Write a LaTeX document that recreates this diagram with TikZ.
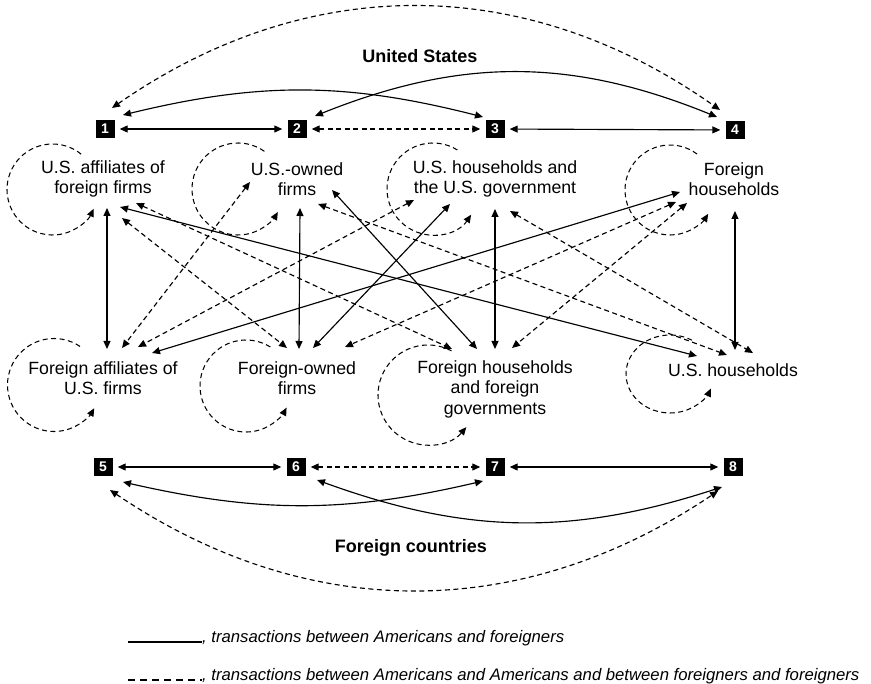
\documentclass[tikz,border=0pt]{standalone}
\usepackage{fontspec}
\setmainfont{Liberation Sans}
\usetikzlibrary{arrows.meta}
\begin{document}
\begin{tikzpicture}[x=1pt,y=1pt,
  >={Triangle[length=8pt,width=7pt]},
  conn/.style={line width=1.15pt,<->},
  dconn/.style={conn,dash pattern=on 5pt off 3.5pt},
  straight/.style={shorten >=5pt,shorten <=5pt},
  selfloop/.style={line width=1.05pt,dash pattern=on 5pt off 3.5pt,->},
  numbox/.style={fill=black,text=white,font=\bfseries\fontsize{14}{14}\selectfont,minimum width=19pt,minimum height=18pt,inner sep=0pt},
  lab/.style={align=center,font=\fontsize{17.7}{20.5}\selectfont,inner sep=0pt},
  region/.style={font=\bfseries\fontsize{18}{20}\selectfont,inner sep=0pt},
  legendtext/.style={font=\itshape\fontsize{16.7}{20}\selectfont,anchor=base west,inner sep=0pt}
]
\useasboundingbox (0,0) rectangle (871,-684);

% ---------- numbered boxes ----------
\node[numbox] (n1) at (105,-129) {1};
\node[numbox] (n2) at (297,-129) {2};
\node[numbox] (n3) at (495,-129) {3};
\node[numbox] (n4) at (735,-130) {4};
\node[numbox] (n5) at (103,-467) {5};
\node[numbox] (n6) at (296,-467) {6};
\node[numbox] (n7) at (495,-467) {7};
\node[numbox] (n8) at (733,-467) {8};

% ---------- titles ----------
\node[region] (us) at (420,-56) {United States};
\node[region] (fc) at (411,-548) {Foreign countries};

% ---------- sector labels ----------
\node[lab] (lA1) at (103,-179) {U.S. affiliates of\\foreign firms};
\node[lab] (lA2) at (297,-179) {U.S.-owned\\firms};
\node[lab] (lA3) at (495,-179) {U.S. households and\\the U.S. government};
\node[lab] (lA4) at (734,-179) {Foreign\\households};
\node[lab] (lB1) at (103,-378) {Foreign affiliates of\\U.S. firms};
\node[lab] (lB2) at (297,-378) {Foreign-owned\\firms};
\node[lab] (lB3) at (495,-389) {Foreign households\\and foreign\\governments};
\node[lab] (lB4) at (733,-370) {U.S. households};

% ---------- top row connections ----------
\draw[conn,straight] (n1) -- (n2);
\draw[dconn,straight] (n2) -- (n3);
\draw[conn,straight] (n3) -- (n4);
\coordinate (t14a) at (112,-108); \coordinate (t14b) at (720,-110);
\coordinate (t13a) at (123,-115); \coordinate (t13b) at (483,-117);
\coordinate (t24a) at (315,-116); \coordinate (t24b) at (717,-117);
\draw[dconn] (t14a) to[bend left=35] (t14b);
\draw[conn] (t13a) to[bend left=14] (t13b);
\draw[conn] (t24a) to[bend left=22] (t24b);

% ---------- bottom row connections ----------
\draw[conn,straight] (n5) -- (n6);
\draw[dconn,straight] (n6) -- (n7);
\draw[conn,straight] (n7) -- (n8);
\coordinate (b57a) at (123,-482); \coordinate (b57b) at (483,-481);
\coordinate (b68a) at (317,-480); \coordinate (b68b) at (722,-487);
\coordinate (b58a) at (110,-490); \coordinate (b58b) at (718,-491);
\draw[conn] (b57a) to[bend right=13] (b57b);
\draw[conn] (b68a) to[bend right=19] (b68b);
\draw[dconn] (b58a) to[bend right=34] (b58b);

% ---------- end points of the cross connections ----------
\coordinate (pA1B1) at (107,-208); \coordinate (pA1B2) at (122,-218);
\coordinate (pA1B3) at (136,-203); \coordinate (pA1B4) at (120,-207);
\coordinate (pA2B1) at (250,-182); \coordinate (pA2B2) at (300,-208);
\coordinate (pA2B3) at (332,-190); \coordinate (pA2B4) at (318,-204);
\coordinate (pA3B1) at (414,-200); \coordinate (pA3B2) at (450,-204);
\coordinate (pA3B3) at (495,-209); \coordinate (pA3B4) at (510,-211);
\coordinate (pA4B1) at (680,-192); \coordinate (pA4B2) at (676,-202);
\coordinate (pA4B3) at (687,-203); \coordinate (pA4B4) at (735,-211);

\coordinate (qB1A1) at (107,-349); \coordinate (qB1A2) at (122,-348);
\coordinate (qB1A3) at (138,-347); \coordinate (qB1A4) at (152,-353);
\coordinate (qB2A1) at (287,-348); \coordinate (qB2A2) at (299,-349);
\coordinate (qB2A3) at (313,-348); \coordinate (qB2A4) at (345,-347);
\coordinate (qB3A1) at (452,-349); \coordinate (qB3A2) at (477,-349);
\coordinate (qB3A3) at (495,-349); \coordinate (qB3A4) at (512,-348);
\coordinate (qB4A1) at (697,-356); \coordinate (qB4A2) at (727,-355);
\coordinate (qB4A3) at (753,-353); \coordinate (qB4A4) at (735,-350);

% vertical (solid)
\draw[conn] (pA1B1) -- (qB1A1);
\draw[conn] (pA2B2) -- (qB2A2);
\draw[conn] (pA3B3) -- (qB3A3);
\draw[conn] (pA4B4) -- (qB4A4);
% diagonals, Americans <-> foreigners (solid)
\draw[conn] (pA1B4) -- (qB4A1);
\draw[conn] (pA2B3) -- (qB3A2);
\draw[conn] (pA3B2) -- (qB2A3);
\draw[conn] (pA4B1) -- (qB1A4);
% diagonals, same side (dashed)
\draw[dconn] (pA1B2) -- (qB2A1);
\draw[dconn] (pA1B3) -- (qB3A1);
\draw[dconn] (pA2B1) -- (qB1A2);
\draw[dconn] (pA2B4) -- (qB4A2);
\draw[dconn] (pA3B1) -- (qB1A3);
\draw[dconn] (pA3B4) -- (qB4A3);
\draw[dconn] (pA4B2) -- (qB2A4);
\draw[dconn] (pA4B3) -- (qB3A4);

% ---------- self loops ----------
\coordinate (cA1) at (52.5,-189.5);
\coordinate (cA2) at (238,-189);
\coordinate (cA3) at (433,-189);
\coordinate (cA4) at (670,-190);
\coordinate (cB1) at (54,-385);
\coordinate (cB2) at (246,-386);
\coordinate (cB3) at (428,-395);
\coordinate (cB4) at (670,-374);
\draw[selfloop] (cA1) ++(51:45.5) arc[start angle=51,end angle=335,radius=45.5];
\draw[selfloop] (cA2) ++(55:46) arc[start angle=55,end angle=330,radius=46];
\draw[selfloop] (cA3) ++(58:46) arc[start angle=58,end angle=326,radius=46];
\draw[selfloop] (cA4) ++(53:45) arc[start angle=53,end angle=328,radius=45];
\draw[selfloop] (cB1) ++(56:46.5) arc[start angle=56,end angle=330,radius=46.5];
\draw[selfloop] (cB2) ++(58:46) arc[start angle=58,end angle=332,radius=46];
\draw[selfloop] (cB3) ++(62:50) arc[start angle=62,end angle=320,radius=50];
\draw[selfloop] (cB4) ++(60:44 and 39) arc[start angle=60,end angle=338,x radius=44,y radius=39];

% ---------- legend ----------
\coordinate (lg1a) at (128,-642); \coordinate (lg1b) at (202,-642);
\coordinate (lg2a) at (128,-680); \coordinate (lg2b) at (202,-680);
\draw[line width=1.15pt] (lg1a) -- (lg1b);
\draw[line width=1.15pt,dash pattern=on 7pt off 5pt] (lg2a) -- (lg2b);
\node[legendtext] (lt1) at (lg1b) {, transactions between Americans and foreigners};
\node[legendtext] (lt2) at (lg2b) {, transactions between Americans and Americans and between foreigners and foreigners};
\end{tikzpicture}
\end{document}
